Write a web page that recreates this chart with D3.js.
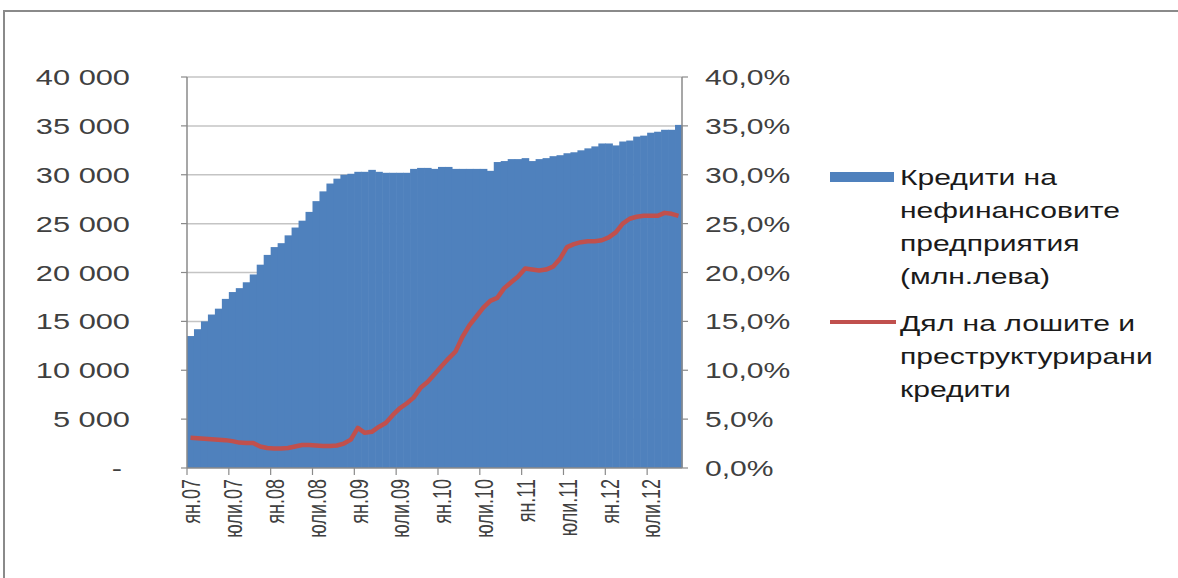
<!DOCTYPE html>
<html>
<head>
<meta charset="utf-8">
<script src="https://cdn.jsdelivr.net/npm/d3@7"></script>
<style>
  body { margin: 0; background: #fff; }
  text { font-family: "Liberation Sans", Arial, sans-serif; }
</style>
</head>
<body>
<div id="chart"></div>
<script>
// months Jan 2007 .. Nov 2012
const months = [];
const monNames = ['ян.', 'фев.', 'март.', 'апр.', 'май.', 'юни.', 'юли.', 'авг.', 'сеп.', 'окт.', 'ное.', 'дек.'];
const years = ['07', '08', '09', '10', '11', '12'];

// credits to non-financial corporations, mln leva
const credits = [
  13500, 14200, 15000, 15700, 16300, 17300, 18000, 18400, 19000, 19800, 20800, 21800,
  22600, 23000, 23800, 24600, 25300, 26200, 27300, 28300, 29100, 29600, 30000, 30100,
  30300, 30300, 30500, 30300, 30200, 30200, 30200, 30200, 30600, 30700, 30700, 30600,
  30800, 30800, 30600, 30600, 30600, 30600, 30600, 30400, 31300, 31400, 31600, 31600,
  31700, 31400, 31600, 31700, 31900, 32000, 32200, 32300, 32500, 32700, 32900, 33200,
  33200, 33000, 33400, 33500, 33900, 34000, 34300, 34400, 34600, 34600, 35100
];
// share of bad and restructured credits, %
const badShare = [
  3.1, 3.05, 3.0, 2.95, 2.9, 2.85, 2.75, 2.6, 2.55, 2.55, 2.2, 2.05,
  2.0, 2.0, 2.05, 2.2, 2.35, 2.35, 2.3, 2.25, 2.25, 2.3, 2.5, 2.9,
  4.1, 3.6, 3.7, 4.2, 4.6, 5.4, 6.1, 6.6, 7.2, 8.2, 8.8, 9.6,
  10.4, 11.2, 11.9, 13.4, 14.6, 15.5, 16.4, 17.1, 17.4, 18.4, 19.0, 19.6,
  20.4, 20.3, 20.2, 20.3, 20.6, 21.4, 22.6, 22.9, 23.1, 23.2, 23.2, 23.3,
  23.6, 24.1, 25.0, 25.5, 25.7, 25.8, 25.8, 25.8, 26.1, 26.0, 25.8
];
const leftTicks = [0, 5000, 10000, 15000, 20000, 25000, 30000, 35000, 40000];
const rightTicks = [0, 5, 10, 15, 20, 25, 30, 35, 40];
const legendBars = ['Кредити на', 'нефинансовите', 'предприятия', '(млн.лева)'];
const legendLine = ['Дял на лошите и', 'преструктурирани', 'кредити'];

years.forEach(y => monNames.forEach(m => months.push(m + y)));
months.length = credits.length;

const W = 1178, H = 578, SX = 1.4;
const svg = d3.select('#chart').append('svg').attr('width', W).attr('height', H);

// outer frame
svg.append('path').attr('d', 'M4,' + H + 'V11H' + W)
  .attr('fill', 'none').attr('stroke', '#8a8a8a').attr('stroke-width', 2);

const pLeft = 187, pRight = 682, pTop = 77, pBottom = 468;
const x = d3.scaleBand().domain(months).range([pLeft, pRight]).padding(0);
const yL = d3.scaleLinear().domain([0, 40000]).range([pBottom, pTop]);
const yR = d3.scaleLinear().domain([0, 40]).range([pBottom, pTop]);

function stretchedText(g, tx, ty, str, anchor, size, color) {
  return g.append('text')
    .attr('transform', 'translate(' + tx + ',' + ty + ') scale(' + SX + ',1)')
    .attr('text-anchor', anchor)
    .attr('font-size', size)
    .attr('fill', color)
    .text(str);
}

// gridlines
svg.append('g').selectAll('line').data(leftTicks.slice(1)).join('line')
  .attr('x1', pLeft).attr('x2', pRight)
  .attr('y1', d => yL(d)).attr('y2', d => yL(d))
  .attr('stroke', '#c4c4c4').attr('stroke-width', 1.5);

// bars
svg.append('g').selectAll('rect').data(credits).join('rect')
  .attr('x', (d, i) => x(months[i]))
  .attr('width', x.bandwidth() + 0.6)
  .attr('y', d => yL(d))
  .attr('height', d => pBottom - yL(d))
  .attr('fill', '#4f81bd');

// line
const line = d3.line()
  .x((d, i) => x(months[i]) + x.bandwidth() / 2)
  .y(d => yR(d));
svg.append('path').datum(badShare)
  .attr('d', line)
  .attr('fill', 'none')
  .attr('stroke', '#c0504d')
  .attr('stroke-width', 4.5)
  .attr('stroke-linejoin', 'round');

// axes lines
const axisCol = '#8a8a8a';
svg.append('line').attr('x1', pLeft).attr('x2', pLeft).attr('y1', pTop).attr('y2', pBottom)
  .attr('stroke', axisCol).attr('stroke-width', 1.5);
svg.append('line').attr('x1', pRight).attr('x2', pRight).attr('y1', pTop).attr('y2', pBottom)
  .attr('stroke', axisCol).attr('stroke-width', 1.5);
svg.append('line').attr('x1', pLeft).attr('x2', pRight).attr('y1', pBottom).attr('y2', pBottom)
  .attr('stroke', axisCol).attr('stroke-width', 1.5);

// left ticks + labels
const gl = svg.append('g');
leftTicks.forEach(t => {
  gl.append('line').attr('x1', pLeft - 6).attr('x2', pLeft).attr('y1', yL(t)).attr('y2', yL(t))
    .attr('stroke', axisCol).attr('stroke-width', 1.2);
  const lbl = t === 0 ? '-' : d3.format(',')(t).replace(',', ' ');
  stretchedText(gl, t === 0 ? 122 : 130, yL(t) + 8, lbl, 'end', 22, '#404040');
});

// right ticks + labels
const gr = svg.append('g');
rightTicks.forEach(t => {
  gr.append('line').attr('x1', pRight).attr('x2', pRight + 6).attr('y1', yR(t)).attr('y2', yR(t))
    .attr('stroke', axisCol).attr('stroke-width', 1.2);
  stretchedText(gr, 705, yR(t) + 8, t.toFixed(1).replace('.', ',') + '%', 'start', 21.5, '#404040');
});

// bottom ticks + labels every 6 months
const gb = svg.append('g');
months.forEach((m, i) => {
  if (i % 6 !== 0) return;
  gb.append('line').attr('x1', x(m)).attr('x2', x(m)).attr('y1', pBottom).attr('y2', pBottom + 7)
    .attr('stroke', axisCol).attr('stroke-width', 1.2);
  const cx = x(m) + x.bandwidth() / 2 + 1;
  gb.append('text')
    .attr('transform', 'translate(' + cx + ',479) scale(' + SX + ',1) rotate(-90)')
    .attr('text-anchor', 'end')
    .attr('dy', '0.35em')
    .attr('font-size', 18)
    .attr('fill', '#404040')
    .text(m);
});

// legend
const lg = svg.append('g');
lg.append('rect').attr('x', 830).attr('y', 172).attr('width', 64).attr('height', 10).attr('fill', '#4f81bd');
legendBars.forEach((s, i) => stretchedText(lg, 900, 185 + i * 33, s, 'start', 21.5, '#1a1a1a'));
lg.append('line').attr('x1', 830).attr('x2', 896).attr('y1', 322).attr('y2', 322)
  .attr('stroke', '#c0504d').attr('stroke-width', 4);
legendLine.forEach((s, i) => stretchedText(lg, 900, 331 + i * 33, s, 'start', 21.5, '#1a1a1a'));
</script>
</body>
</html>
